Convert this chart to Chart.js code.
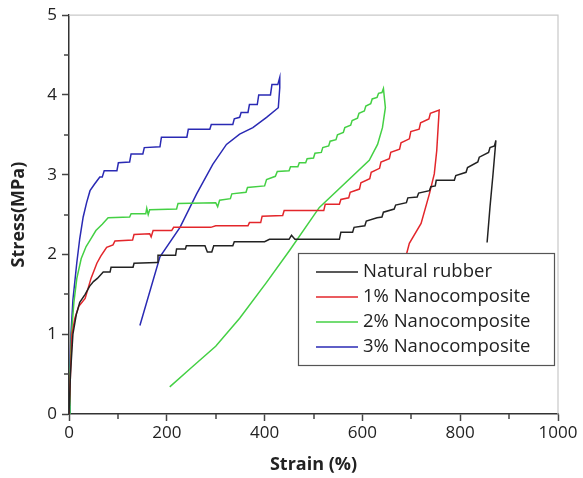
<!DOCTYPE html>
<html>
<head>
<meta charset="utf-8">
<script src="https://cdn.jsdelivr.net/npm/chart.js@4/dist/chart.umd.min.js"></script>
<style>
  html, body { margin: 0; padding: 0; background: #fff; }
  #wrap { width: 583px; height: 478px; }
</style>
</head>
<body>
<div id="wrap"><canvas id="stressChart" width="583" height="478"></canvas></div>
<script>
// strain (%), stress (MPa) pairs
const seriesLabels = ['Natural rubber', '1% Nanocomposite', '2% Nanocomposite', '3% Nanocomposite'];
const seriesColors = ['#222222', '#e3262b', '#44d044', '#2a2ab4'];

const naturalRubber = [
  [0, 0], [3, 0.5], [8, 1.0], [15, 1.25], [22, 1.4], [33, 1.5], [42, 1.6], [50, 1.66], [58, 1.7],
  [70, 1.78], [84, 1.78], [86, 1.84], [131, 1.84], [133, 1.89], [180, 1.9], [182, 1.99], [218, 1.99],
  [220, 2.07], [238, 2.07], [240, 2.11], [278, 2.11], [283, 2.03], [292, 2.03], [296, 2.11], [335, 2.11],
  [338, 2.16], [400, 2.16], [410, 2.19], [450, 2.19], [455, 2.24], [462, 2.19], [553, 2.19], [556, 2.28],
  [580, 2.28], [583, 2.34], [605, 2.36], [608, 2.42], [630, 2.46], [640, 2.47], [643, 2.53], [665, 2.57],
  [668, 2.62], [690, 2.65], [693, 2.71], [712, 2.72], [715, 2.77], [737, 2.8], [740, 2.85], [749, 2.86],
  [751, 2.93], [788, 2.93], [791, 2.99], [812, 3.03], [815, 3.09], [836, 3.16], [839, 3.22], [858, 3.28],
  [861, 3.34], [870, 3.36], [873, 3.43], [867, 3.0], [861, 2.6], [855, 2.15]
];

const nano1 = [
  [0, 0], [3, 0.5], [6, 1.0], [12, 1.2], [20, 1.35], [33, 1.45], [45, 1.7], [57, 1.89], [65, 1.98],
  [77, 2.09], [90, 2.12], [94, 2.17], [130, 2.18], [133, 2.25], [165, 2.26], [168, 2.22], [172, 2.3],
  [210, 2.3], [214, 2.34], [290, 2.34], [300, 2.36], [366, 2.36], [369, 2.4], [392, 2.4], [395, 2.48],
  [437, 2.49], [440, 2.55], [521, 2.55], [524, 2.63], [553, 2.63], [556, 2.69], [572, 2.71], [575, 2.78],
  [594, 2.82], [597, 2.9], [615, 2.95], [618, 3.03], [635, 3.08], [638, 3.16], [655, 3.2], [658, 3.28],
  [676, 3.32], [679, 3.4], [696, 3.45], [699, 3.54], [716, 3.57], [719, 3.65], [736, 3.7], [739, 3.77],
  [757, 3.81], [752, 3.3], [747, 3.01], [737, 2.76], [720, 2.39], [696, 2.14], [690, 2.0], [680, 1.85]
];

const nano2 = [
  [0, 0], [2, 0.5], [5, 1.0], [10, 1.4], [16, 1.7], [25, 1.95], [35, 2.1], [45, 2.2], [55, 2.3],
  [68, 2.38], [80, 2.46], [124, 2.47], [127, 2.51], [157, 2.51], [159, 2.58], [162, 2.5], [165, 2.56],
  [220, 2.57], [223, 2.64], [300, 2.65], [304, 2.6], [308, 2.68], [330, 2.7], [333, 2.76], [362, 2.78],
  [365, 2.84], [400, 2.86], [404, 2.94], [422, 2.98], [426, 3.04], [450, 3.05], [453, 3.1], [468, 3.1],
  [471, 3.15], [484, 3.15], [487, 3.2], [500, 3.21], [503, 3.27], [516, 3.28], [519, 3.34], [531, 3.36],
  [534, 3.42], [546, 3.44], [549, 3.5], [561, 3.53], [564, 3.59], [576, 3.62], [579, 3.68], [590, 3.71],
  [593, 3.77], [604, 3.8], [607, 3.86], [617, 3.89], [620, 3.95], [630, 3.97], [633, 4.02], [640, 4.03],
  [643, 4.08], [647, 3.84], [641, 3.59], [631, 3.38], [614, 3.18], [512, 2.59], [451, 2.05], [404, 1.65],
  [349, 1.2], [300, 0.85], [250, 0.58], [206, 0.34]
];

const nano3 = [
  [0, 0], [2, 0.6], [4, 1.0], [8, 1.43], [16, 1.9], [22, 2.2], [29, 2.47], [36, 2.65], [43, 2.8],
  [52, 2.88], [63, 2.97], [68, 2.97], [72, 3.05], [98, 3.05], [101, 3.15], [124, 3.16], [127, 3.26],
  [151, 3.26], [154, 3.34], [186, 3.35], [189, 3.47], [241, 3.47], [244, 3.57], [288, 3.57], [291, 3.63],
  [335, 3.63], [338, 3.7], [349, 3.72], [352, 3.78], [366, 3.78], [369, 3.88], [385, 3.88], [388, 4.0],
  [412, 4.0], [415, 4.13], [427, 4.13], [431, 4.22], [431, 4.09], [428, 3.84], [404, 3.72], [376, 3.59],
  [349, 3.51], [322, 3.38], [294, 3.13], [261, 2.76], [227, 2.34], [186, 1.97], [145, 1.11]
];

const allSeries = [naturalRubber, nano1, nano2, nano3];

const xTicks = [0, 200, 400, 600, 800, 1000];
const yTicks = [0, 1, 2, 3, 4, 5];

const FONT = "'Open Sans', 'DejaVu Sans', sans-serif";

// light frame on top/right
const framePlugin = {
  id: 'frame',
  beforeDatasetsDraw(chart) {
    const { ctx, chartArea: a } = chart;
    ctx.save();
    ctx.strokeStyle = '#c9c9c9';
    ctx.lineWidth = 1.2;
    ctx.beginPath();
    ctx.moveTo(a.left, a.top);
    ctx.lineTo(a.right, a.top);
    ctx.lineTo(a.right, a.bottom);
    ctx.stroke();
    ctx.restore();
  },
  // minor ticks halfway between the labelled ones
  afterDraw(chart) {
    const { ctx, chartArea: a } = chart;
    const xs = chart.scales.x, ys = chart.scales.y;
    ctx.save();
    ctx.strokeStyle = '#444';
    ctx.lineWidth = 1.5;
    ctx.beginPath();
    for (let v = 100; v < 1000; v += 200) {
      const px = Math.round(xs.getPixelForValue(v));
      ctx.moveTo(px, a.bottom);
      ctx.lineTo(px, a.bottom + 5);
    }
    for (let v = 0.5; v < 5; v += 1) {
      const py = Math.round(ys.getPixelForValue(v));
      ctx.moveTo(a.left, py);
      ctx.lineTo(a.left - 5, py);
    }
    ctx.stroke();
    ctx.restore();
  }
};

// boxed legend drawn over the lines
const legendBox = {
  id: 'legendBox',
  afterDatasetsDraw(chart) {
    const { ctx } = chart;
    const x = 298, y = 253, w = 256, h = 112;
    ctx.save();
    ctx.fillStyle = '#fff';
    ctx.fillRect(x, y, w, h);
    ctx.strokeStyle = '#555';
    ctx.lineWidth = 1.2;
    ctx.strokeRect(x + 0.5, y + 0.5, w, h);
    ctx.font = '18.5px ' + FONT;
    ctx.textBaseline = 'middle';
    chart.data.datasets.forEach((ds, i) => {
      const cy = y + 19 + i * 25;
      ctx.strokeStyle = ds.borderColor;
      ctx.lineWidth = 1.5;
      ctx.beginPath();
      ctx.moveTo(316, cy);
      ctx.lineTo(358, cy);
      ctx.stroke();
      ctx.fillStyle = '#222';
      ctx.fillText(ds.label, 363, cy);
    });
    ctx.restore();
  }
};

new Chart(document.getElementById('stressChart'), {
  type: 'scatter',
  data: {
    datasets: allSeries.map((pts, i) => ({
      label: seriesLabels[i],
      data: pts.map(([x, y]) => ({ x, y })),
      showLine: true,
      borderColor: seriesColors[i],
      backgroundColor: seriesColors[i],
      borderWidth: 1.5,
      pointRadius: 0,
      tension: 0
    }))
  },
  options: {
    responsive: false,
    animation: false,
    layout: { padding: { top: 14, right: 25, left: 0, bottom: 0 } },
    plugins: { legend: { display: false }, tooltip: { enabled: false } },
    scales: {
      x: {
        type: 'linear',
        min: 0,
        max: 1000,
        afterBuildTicks: (s) => { s.ticks = xTicks.map(v => ({ value: v })); },
        afterFit: (s) => { s.height = 64; },
        border: { color: '#333', width: 1.5 },
        grid: { drawOnChartArea: false, color: '#444', tickLength: 7, tickWidth: 1.5 },
        ticks: { color: '#222', font: { family: FONT, size: 17 }, padding: 2, maxRotation: 0, callback: (v) => String(v) },
        title: { display: true, text: 'Strain (%)', color: '#222', font: { family: FONT, size: 18, weight: 'bold' }, padding: { top: 0, bottom: 2 } }
      },
      y: {
        type: 'linear',
        min: 0,
        max: 5,
        afterBuildTicks: (s) => { s.ticks = yTicks.map(v => ({ value: v })); },
        afterFit: (s) => { s.width = 69; },
        border: { color: '#333', width: 1.5 },
        grid: { drawOnChartArea: false, color: '#444', tickLength: 7, tickWidth: 1.5 },
        ticks: { color: '#222', font: { family: FONT, size: 17 }, padding: 5, callback: (v) => String(v) },
        title: { display: true, text: 'Stress(MPa)', color: '#222', font: { family: FONT, size: 18, weight: 'bold' }, padding: { top: 8, bottom: 0 } }
      }
    }
  },
  plugins: [framePlugin, legendBox]
});
</script>
</body>
</html>
